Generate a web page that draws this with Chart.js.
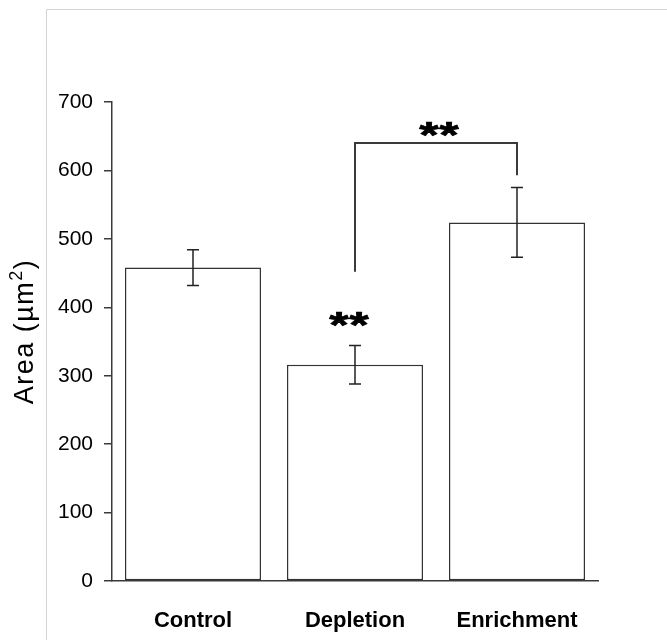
<!DOCTYPE html>
<html>
<head>
<meta charset="utf-8">
<title>Area by condition</title>
<script src="https://cdn.jsdelivr.net/npm/chart.js@4/dist/chart.umd.min.js"></script>
<style>
  html, body { margin: 0; padding: 0; background: #fff; }
  #wrap { width: 667px; height: 640px; }
</style>
</head>
<body>
<div id="wrap"><canvas id="chart" width="667" height="640"></canvas></div>
<script>
// groups and measurements (mean +/- SEM)
const categories = ["Control", "Depletion", "Enrichment"];
const means = [458, 316, 524];
const errors = [26, 28, 51];

// y axis ticks
const yTicks = [0, 100, 200, 300, 400, 500, 600, 700];

// significance marks: "**" over single bars, bracket between two groups
const starBars = [1];
const starValues = [381];
const bracketGroups = [1, 2];
const bracketLegEnds = [452, 593];
const bracketTop = 640;
const bracketStarValue = 660;

const ink = "#3a3a3a";
const font = "'Liberation Sans', Arial, sans-serif";

const frame = {
  id: "frame",
  beforeDraw(chart) {
    const ctx = chart.ctx;
    ctx.save();
    ctx.fillStyle = "#fff";
    ctx.fillRect(0, 0, chart.width, chart.height);
    ctx.strokeStyle = "#d4d4d4";
    ctx.lineWidth = 1;
    ctx.beginPath();
    ctx.moveTo(46.5, chart.height);
    ctx.lineTo(46.5, 9.5);
    ctx.lineTo(chart.width, 9.5);
    ctx.stroke();
    ctx.restore();
  }
};

// y title with a real superscript 2
function drawYTitle(ctx, chart) {
  const y = chart.scales.y;
  const parts = [["Area (\u00b5m", 27, 0], ["2", 18, -9], [")", 27, 0]];
  ctx.save();
  ctx.fillStyle = "#000";
  ctx.letterSpacing = "1.5px";
  ctx.textBaseline = "middle";
  ctx.textAlign = "left";
  let total = 0;
  parts.forEach(function (p) {
    ctx.font = p[1] + "px " + font;
    total += ctx.measureText(p[0]).width;
  });
  ctx.translate(25, (y.top + y.bottom) / 2 - 10);
  ctx.rotate(-Math.PI / 2);
  let pos = -total / 2;
  parts.forEach(function (p) {
    ctx.font = p[1] + "px " + font;
    ctx.fillText(p[0], pos, p[2] + 1);
    pos += ctx.measureText(p[0]).width;
  });
  ctx.restore();
}

// two wide asterisks, drawn one by one so they keep a small gap
function drawStars(ctx, cx, cy) {
  [-10, 10].forEach(function (dx) {
    ctx.save();
    ctx.translate(cx + dx, cy);
    ctx.scale(1.35, 1);
    ctx.fillText("*", 0, 0);
    ctx.strokeText("*", 0, 0);
    ctx.restore();
  });
}

const annotations = {
  id: "annotations",
  afterDatasetsDraw(chart) {
    const ctx = chart.ctx;
    const x = chart.scales.x;
    const y = chart.scales.y;
    ctx.save();
    ctx.strokeStyle = "#222";
    ctx.lineWidth = 1.5;

    // error bars
    means.forEach(function (m, i) {
      const cx = x.getPixelForValue(i);
      const top = y.getPixelForValue(m + errors[i]);
      const bot = y.getPixelForValue(m - errors[i]);
      ctx.beginPath();
      ctx.moveTo(cx, top);
      ctx.lineTo(cx, bot);
      ctx.moveTo(cx - 6, top);
      ctx.lineTo(cx + 6, top);
      ctx.moveTo(cx - 6, bot);
      ctx.lineTo(cx + 6, bot);
      ctx.stroke();
    });

    // bracket
    ctx.strokeStyle = ink;
    ctx.lineWidth = 2;
    const x1 = x.getPixelForValue(bracketGroups[0]);
    const x2 = x.getPixelForValue(bracketGroups[1]);
    const yt = y.getPixelForValue(bracketTop);
    ctx.beginPath();
    ctx.moveTo(x1, y.getPixelForValue(bracketLegEnds[0]));
    ctx.lineTo(x1, yt);
    ctx.lineTo(x2, yt);
    ctx.lineTo(x2, y.getPixelForValue(bracketLegEnds[1]));
    ctx.stroke();

    // stars
    ctx.fillStyle = "#000";
    ctx.strokeStyle = "#000";
    ctx.lineWidth = 0.7;
    ctx.font = "bold 37px " + font;
    ctx.textAlign = "center";
    ctx.textBaseline = "middle";
    starBars.forEach(function (b, i) {
      drawStars(ctx, x.getPixelForValue(b) - 6, y.getPixelForValue(starValues[i]) + 8);
    });
    drawStars(ctx, (x1 + x2) / 2 + 3, y.getPixelForValue(bracketStarValue) + 8);
    ctx.restore();

    drawYTitle(ctx, chart);
  }
};

new Chart(document.getElementById("chart"), {
  type: "bar",
  data: {
    labels: categories,
    datasets: [{
      data: means,
      backgroundColor: "#fff",
      borderColor: "#333",
      borderWidth: 1.5,
      borderSkipped: false,
      barPercentage: 0.84,
      categoryPercentage: 1
    }]
  },
  options: {
    responsive: false,
    animation: false,
    events: [],
    layout: { padding: { top: 102, right: 69, left: 0, bottom: 0 } },
    plugins: {
      legend: { display: false },
      tooltip: { enabled: false }
    },
    scales: {
      x: {
        grid: { display: false },
        border: { display: true, color: ink, width: 1.5 },
        ticks: {
          color: "#000",
          padding: 19,
          font: { family: font, size: 22, weight: "bold" }
        },
        afterFit(s) { s.height = 59; }
      },
      y: {
        min: 0,
        max: 700,
        afterBuildTicks(s) { s.ticks = yTicks.map(function (v) { return { value: v }; }); },
        grid: {
          drawOnChartArea: false,
          drawTicks: true,
          tickLength: 8,
          color: ink,
          lineWidth: 1.5
        },
        border: { display: true, color: ink, width: 1.5 },
        ticks: {
          color: "#000",
          padding: 11,
          font: { family: font, size: 21 }
        },
        afterFit(s) { s.width = 112; }
      }
    }
  },
  plugins: [frame, annotations]
});
</script>
</body>
</html>
